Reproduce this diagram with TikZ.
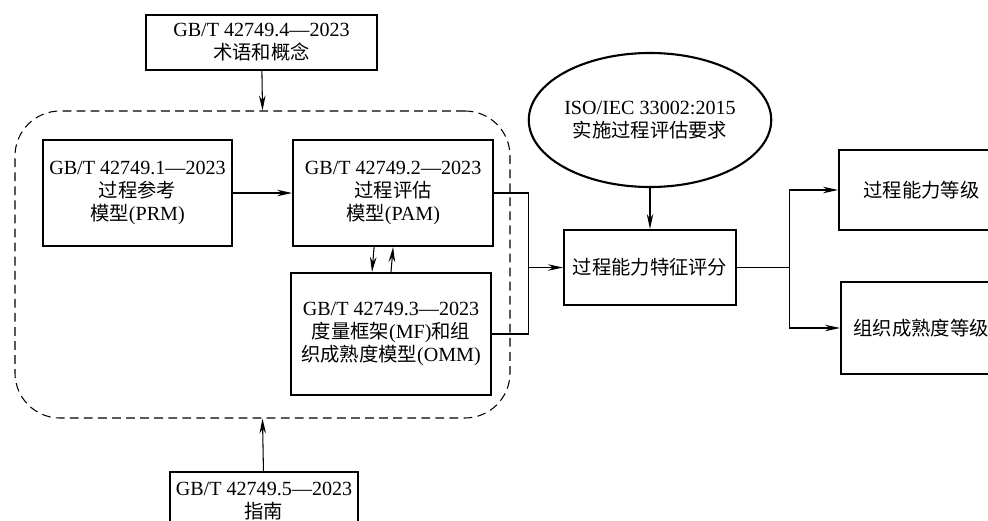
\documentclass[tikz,border=0pt]{standalone}
\usepackage{fontspec}
\setmainfont{Liberation Serif}[Scale=1.04]
\newfontfamily\cjk{Noto Sans CJK SC}
\usepackage{tikz}
\usetikzlibrary{arrows.meta, positioning, shapes.geometric}
\tikzstyle{stdbox} = [rectangle, draw=black, line width=1.2pt, align=center, font=\fontsize{11}{13}\selectfont, inner sep=2pt]
\tikzstyle{isoellipse} = [ellipse, draw=black, line width=1.2pt, align=center, font=\fontsize{11}{13}\selectfont, inner sep=0pt]
\tikzstyle{dashframe} = [rectangle, rounded corners=0.9cm, draw=black, dashed, line width=0.6pt, dash pattern=on 5pt off 3pt]
\tikzstyle{arrow} = [-{Stealth[length=3mm, width=1.3mm]}, line width=0.6pt]
\tikzstyle{line} = [line width=0.6pt]

\begin{document}
\begin{tikzpicture}
    \useasboundingbox (0,0) rectangle (19.76,-10.42);

    % Dashed frame round the three models
    \node[dashframe, minimum width=9.9cm, minimum height=6.14cm] (frame) at (5.25,-5.29) {};

    % Standards on top and bottom
    \node[stdbox, minimum width=4.62cm, minimum height=1.1cm] (term) at (5.23,-0.85) {GB/T 42749.4—2023\\{\cjk 术语和概念}};
    \node[stdbox, minimum width=3.76cm, minimum height=1.16cm] (guide) at (5.28,-10.02) {GB/T 42749.5—2023\\{\cjk 指南}};

    % Models inside the frame
    \node[stdbox, minimum width=3.78cm, minimum height=2.12cm] (prm) at (2.75,-3.86) {GB/T 42749.1—2023\\{\cjk 过程参考}\\{\cjk 模型}(PRM)};
    \node[stdbox, minimum width=4cm, minimum height=2.12cm, right=1.18cm of prm] (pam) {GB/T 42749.2—2023\\{\cjk 过程评估}\\{\cjk 模型}(PAM)};
    \node[stdbox, minimum width=4cm, minimum height=2.44cm] (omm) at (7.82,-6.68) {GB/T 42749.3—2023\\{\cjk 度量框架}(MF){\cjk 和组}\\{\cjk 织成熟度模型}(OMM)};

    % Rating and results
    \node[stdbox, minimum width=3.44cm, minimum height=1.5cm] (rating) at (13,-5.35) {{\cjk 过程能力特征评分}};
    \node[isoellipse, minimum width=4.28cm, minimum height=2.68cm] (iso) at (13,-2.4) {ISO/IEC 33002:2015\\{\cjk 实施过程评估要求}};
    \node[stdbox, minimum width=3.3cm, minimum height=1.6cm, anchor=west] (caplvl) at (16.76,-3.8) {{\cjk 过程能力等级}};
    \node[stdbox, minimum width=3.2cm, minimum height=1.84cm, anchor=west] (matlvl) at (16.8,-6.56) {{\cjk 组织成熟度等级}};

    % Arrows
    \draw[arrow] (term) -- (frame.north);
    \draw[arrow] (guide) -- (frame.south);
    \draw[arrow] (prm) -- (pam);
    \draw[arrow] ([xshift=-3.8mm]pam.south) -- ([xshift=-3.8mm]omm.north);
    \draw[arrow] (omm.north) -- (pam.south);
    \draw[arrow] (iso) -- (rating);

    % Both models feed the rating
    \coordinate[left=0.68cm of rating.west] (join);
    \draw[line] (pam.east) -| (join);
    \draw[line] (omm.east) -| (join);
    \draw[arrow] (join) -- (rating.west);

    % Rating gives both levels
    \coordinate[right=1.04cm of rating.east] (split);
    \draw[line] (rating.east) -- (split);
    \draw[arrow] (split) |- (caplvl.west);
    \draw[arrow] (split) |- (matlvl.west);
\end{tikzpicture}
\end{document}
